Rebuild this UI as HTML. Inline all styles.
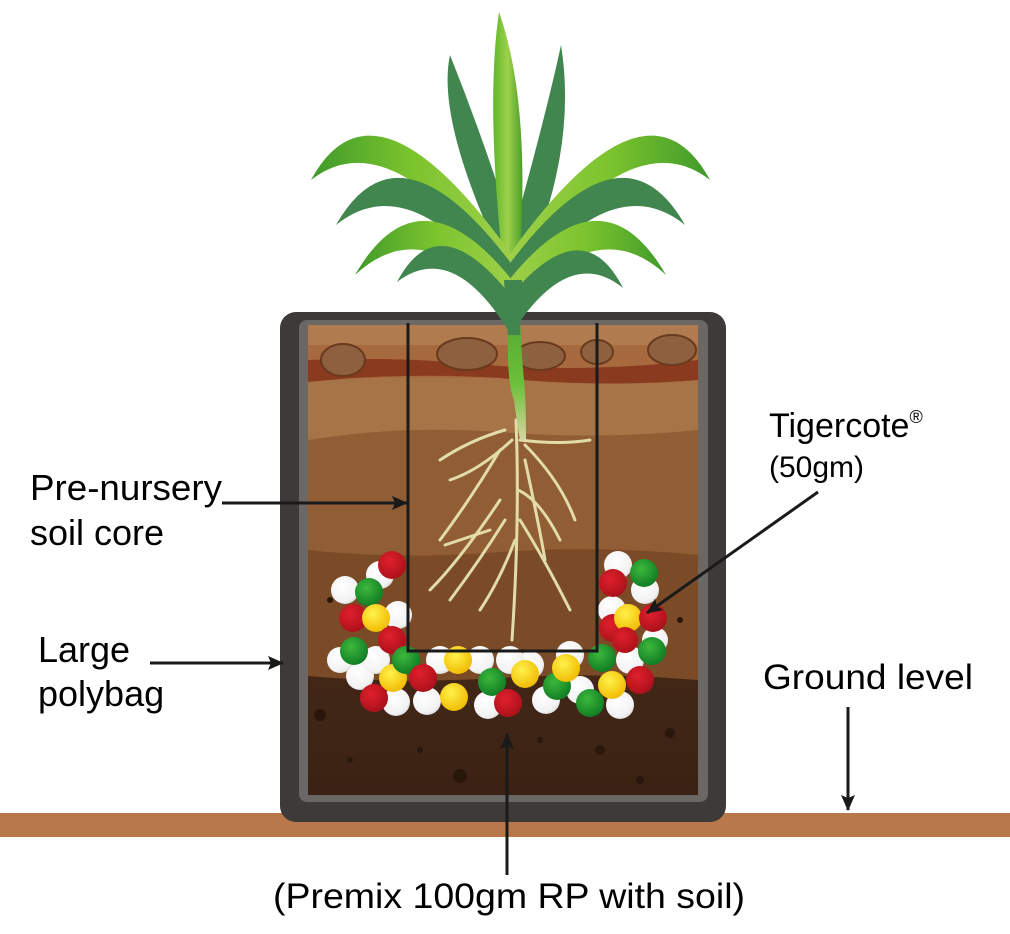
<!DOCTYPE html>
<html><head><meta charset="utf-8"><style>
html,body{margin:0;padding:0;background:#fff;}
svg{display:block;}
text{font-family:"Liberation Sans",Arial,sans-serif;fill:#000;}
</style></head><body>
<svg width="1010" height="934" viewBox="0 0 1010 934" xmlns="http://www.w3.org/2000/svg">
<defs>
<linearGradient id="lg" x1="0" x2="1"><stop offset="0" stop-color="#3f9a2a"/><stop offset="0.5" stop-color="#7cc42e"/><stop offset="1" stop-color="#9fd04a"/></linearGradient>
<linearGradient id="lgr" x1="1" x2="0"><stop offset="0" stop-color="#3f9a2a"/><stop offset="0.5" stop-color="#7cc42e"/><stop offset="1" stop-color="#9fd04a"/></linearGradient>
<linearGradient id="cl" x1="0" x2="1"><stop offset="0" stop-color="#5fb82e"/><stop offset="0.5" stop-color="#9fd04a"/><stop offset="1" stop-color="#4a9e2a"/></linearGradient>
<linearGradient id="stem" x1="0" y1="0" x2="0" y2="1"><stop offset="0" stop-color="#4aa52e"/><stop offset="0.6" stop-color="#6cbf3a"/><stop offset="1" stop-color="#d8d6a0"/></linearGradient>
<linearGradient id="deep" x1="0" y1="0" x2="0" y2="1"><stop offset="0" stop-color="#5a3620"/><stop offset="1" stop-color="#3a2214"/></linearGradient>
<radialGradient id="w" cx="0.4" cy="0.35" r="0.7"><stop offset="0" stop-color="#fff"/><stop offset="0.8" stop-color="#f2f2f2"/><stop offset="1" stop-color="#d8d8d8"/></radialGradient>
<radialGradient id="r" cx="0.4" cy="0.35" r="0.7"><stop offset="0" stop-color="#e0202c"/><stop offset="1" stop-color="#a8101a"/></radialGradient>
<radialGradient id="g" cx="0.4" cy="0.35" r="0.7"><stop offset="0" stop-color="#3cb83c"/><stop offset="1" stop-color="#0e7a22"/></radialGradient>
<radialGradient id="y" cx="0.4" cy="0.35" r="0.7"><stop offset="0" stop-color="#fff24a"/><stop offset="1" stop-color="#f0b800"/></radialGradient>
<marker id="ah" markerWidth="16" markerHeight="14" refX="15" refY="7" orient="auto" markerUnits="userSpaceOnUse"><path d="M0,0 L16,7 L0,14 L3,7 Z" fill="#1a1a1a"/></marker>
</defs>

<rect x="0" y="813" width="1010" height="24" fill="#b9784c"/>

<rect x="280" y="312" width="446" height="510" rx="16" fill="#3e3a39"/>
<rect x="299" y="320" width="409" height="482" rx="8" fill="#6a6765"/>
<rect x="308" y="325" width="390" height="470" fill="url(#deep)"/>
<path d="M308,325 H698 V680 Q600,672 500,678 Q400,684 308,676 Z" fill="#7b4b27"/>
<path d="M308,325 H698 V555 Q600,545 500,552 Q400,560 308,550 Z" fill="#915d35"/>
<path d="M308,325 H698 V430 Q600,440 500,432 Q400,425 308,440 Z" fill="#a67446"/>
<path d="M308,325 H698 V378 H308 Z" fill="#a66a3e"/>
<path d="M308,325 H698 V345 H308 Z" fill="#b07b4e"/>
<path d="M308,360 Q400,356 500,366 Q600,372 698,360 V380 Q600,388 500,378 Q400,372 308,382 Z" fill="#8a3a1e"/>
<g fill="#8d6040" stroke="#6a3a1e" stroke-width="2">
<ellipse cx="343" cy="360" rx="22" ry="16"/>
<ellipse cx="467" cy="354" rx="30" ry="16"/>
<ellipse cx="540" cy="356" rx="25" ry="14"/>
<ellipse cx="597" cy="352" rx="16" ry="12"/>
<ellipse cx="672" cy="350" rx="24" ry="15"/>
</g>
<g fill="#2a170c">
<circle cx="320" cy="715" r="6"/><circle cx="460" cy="776" r="7"/><circle cx="600" cy="750" r="5"/><circle cx="670" cy="733" r="5"/><circle cx="350" cy="760" r="3"/><circle cx="540" cy="740" r="3"/><circle cx="420" cy="750" r="3"/><circle cx="640" cy="780" r="4"/><circle cx="330" cy="600" r="3"/><circle cx="680" cy="620" r="3"/>
</g>

<g stroke="#e2dcaa" stroke-width="3" fill="none" stroke-linecap="round">
<path d="M516,420 Q520,520 512,640"/>
<path d="M512,440 Q480,470 450,480 M500,450 Q470,500 440,540"/>
<path d="M500,500 Q460,560 430,590 M505,520 Q480,560 450,600 M490,530 Q460,540 445,545"/>
<path d="M520,440 Q560,445 590,440 M525,445 Q560,480 575,520 M525,460 Q540,530 545,560"/>
<path d="M520,520 Q545,560 570,610 M515,540 Q500,580 480,610"/>
<path d="M505,430 Q470,440 440,460 M518,490 Q540,500 560,540"/>
</g>

<g>
<circle cx="380" cy="575" r="14" fill="url(#w)"/><circle cx="345" cy="590" r="14" fill="url(#w)"/><circle cx="398" cy="615" r="14" fill="url(#w)"/><circle cx="360" cy="676" r="14" fill="url(#w)"/><circle cx="376" cy="660" r="14" fill="url(#w)"/><circle cx="396" cy="702" r="14" fill="url(#w)"/><circle cx="427" cy="701" r="14" fill="url(#w)"/><circle cx="440" cy="660" r="14" fill="url(#w)"/><circle cx="480" cy="660" r="14" fill="url(#w)"/><circle cx="488" cy="705" r="14" fill="url(#w)"/><circle cx="530" cy="665" r="14" fill="url(#w)"/><circle cx="546" cy="700" r="14" fill="url(#w)"/><circle cx="580" cy="690" r="14" fill="url(#w)"/><circle cx="620" cy="705" r="14" fill="url(#w)"/><circle cx="630" cy="660" r="14" fill="url(#w)"/><circle cx="612" cy="610" r="14" fill="url(#w)"/><circle cx="645" cy="590" r="14" fill="url(#w)"/><circle cx="618" cy="565" r="14" fill="url(#w)"/><circle cx="570" cy="655" r="14" fill="url(#w)"/><circle cx="510" cy="660" r="14" fill="url(#w)"/><circle cx="655" cy="640" r="13" fill="url(#w)"/><circle cx="340" cy="660" r="13" fill="url(#w)"/>
<circle cx="392" cy="565" r="14" fill="url(#r)"/><circle cx="369" cy="592" r="14" fill="url(#g)"/><circle cx="353" cy="618" r="14" fill="url(#r)"/><circle cx="376" cy="618" r="14" fill="url(#y)"/><circle cx="354" cy="651" r="14" fill="url(#g)"/><circle cx="392" cy="640" r="14" fill="url(#r)"/><circle cx="393" cy="678" r="14" fill="url(#y)"/><circle cx="406" cy="660" r="14" fill="url(#g)"/><circle cx="423" cy="678" r="14" fill="url(#r)"/><circle cx="374" cy="698" r="14" fill="url(#r)"/><circle cx="454" cy="697" r="14" fill="url(#y)"/><circle cx="458" cy="660" r="14" fill="url(#y)"/><circle cx="492" cy="682" r="14" fill="url(#g)"/><circle cx="508" cy="703" r="14" fill="url(#r)"/><circle cx="525" cy="674" r="14" fill="url(#y)"/><circle cx="557" cy="686" r="14" fill="url(#g)"/><circle cx="612" cy="685" r="14" fill="url(#y)"/><circle cx="590" cy="703" r="14" fill="url(#g)"/><circle cx="640" cy="680" r="14" fill="url(#r)"/><circle cx="602" cy="658" r="14" fill="url(#g)"/><circle cx="652" cy="651" r="14" fill="url(#g)"/><circle cx="613" cy="628" r="14" fill="url(#r)"/><circle cx="628" cy="618" r="14" fill="url(#y)"/><circle cx="653" cy="618" r="14" fill="url(#r)"/><circle cx="644" cy="573" r="14" fill="url(#g)"/><circle cx="613" cy="583" r="14" fill="url(#r)"/><circle cx="566" cy="668" r="14" fill="url(#y)"/><circle cx="625" cy="640" r="13" fill="url(#r)"/>
</g>

<path d="M408,323 V651 H597 V323" fill="none" stroke="#1a1a1a" stroke-width="3"/>

<path d="M509,300 Q505,380 514,400 Q518,430 520,440 L526,440 Q526,400 524,380 Q520,340 520,300 Z" fill="url(#stem)"/>
<path d="M503,262 Q436,120 450,55 Q488,150 520,255 Z" fill="#41854f"/>
<path d="M506,258 Q545,120 561,45 Q578,150 524,272 Z" fill="#41854f"/>
<path d="M502,255 Q486,100 499,12 Q530,100 520,255 Z" fill="url(#cl)"/>
<path d="M514,258 Q375,62 311,180 Q390,118 507,280 Z" fill="url(#lg)"/>
<path d="M507,258 Q646,62 710,180 Q631,118 514,280 Z" fill="url(#lgr)"/>
<path d="M516,270 Q400,112 336,225 Q410,165 507,295 Z" fill="#41854f"/>
<path d="M505,270 Q621,112 685,225 Q611,165 514,295 Z" fill="#41854f"/>
<path d="M516,285 Q420,162 355,275 Q425,210 506,310 Z" fill="url(#lg)"/>
<path d="M505,285 Q601,162 666,275 Q596,210 515,310 Z" fill="url(#lgr)"/>
<path d="M518,305 Q440,200 397,282 Q452,240 508,330 Z" fill="#41854f"/>
<path d="M503,305 Q581,205 623,288 Q570,245 514,330 Z" fill="#41854f"/>
<path d="M504,280 L522,280 L520,335 L508,335 Z" fill="#41854f"/>

<g stroke="#1a1a1a" stroke-width="3" fill="none">
<line x1="222" y1="503" x2="407" y2="503" marker-end="url(#ah)"/>
<line x1="150" y1="663" x2="283" y2="663" marker-end="url(#ah)"/>
<line x1="818" y1="492" x2="647" y2="613" marker-end="url(#ah)"/>
<line x1="848" y1="707" x2="848" y2="810" marker-end="url(#ah)"/>
<line x1="507" y1="875" x2="507" y2="734" marker-end="url(#ah)"/>
</g>

<text x="30" y="500" font-size="36" textLength="192" lengthAdjust="spacingAndGlyphs">Pre-nursery</text>
<text x="30" y="545" font-size="36">soil core</text>
<text x="38" y="662" font-size="36">Large</text>
<text x="38" y="706" font-size="36">polybag</text>
<text x="769" y="437" font-size="34">Tigercote<tspan font-size="18" dy="-14">®</tspan></text>
<text x="769" y="477" font-size="30">(50gm)</text>
<text x="763" y="689" font-size="35" textLength="210" lengthAdjust="spacingAndGlyphs">Ground level</text>
<text x="273" y="908" font-size="35" textLength="472" lengthAdjust="spacingAndGlyphs">(Premix 100gm RP with soil)</text>
</svg>
</body></html>
